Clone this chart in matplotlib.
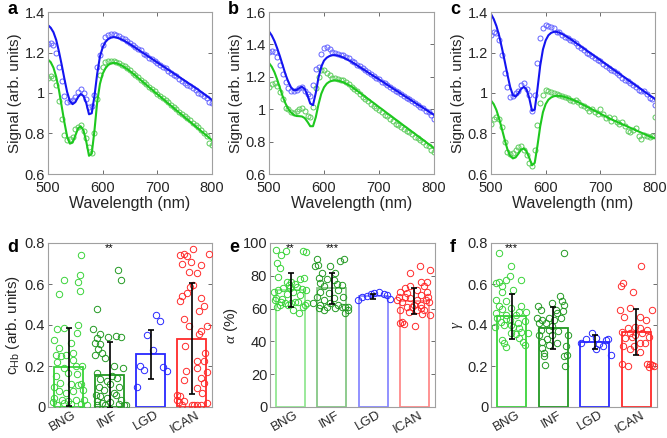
import numpy as np
import matplotlib
matplotlib.use("Agg")
import matplotlib.pyplot as plt
from matplotlib.ticker import FuncFormatter

plt.rcParams['font.family'] = ['Liberation Sans', 'DejaVu Sans']
plt.rcParams['mathtext.fontset'] = 'custom'
plt.rcParams['mathtext.rm'] = 'Liberation Sans'
plt.rcParams['mathtext.it'] = 'Liberation Serif:italic'

# ---------------- spectra data ----------------
wl = list(range(500, 801, 5))

a_blue_fit = [1.335,1.322,1.300,1.262,1.205,1.140,1.070,1.005,0.960,0.945,0.955,0.980,0.995,0.985,0.950,0.895,0.900,0.985,1.095,1.180,1.225,1.252,1.266,1.273,1.276,1.274,1.270,1.264,1.257,1.249,1.241,1.232,1.223,1.214,1.205,1.196,1.187,1.178,1.169,1.160,1.151,1.142,1.133,1.124,1.115,1.106,1.097,1.088,1.079,1.070,1.061,1.052,1.043,1.034,1.025,1.016,1.006,0.996,0.986,0.976,0.966]
a_blue_dat = [1.24,1.245,1.235,1.20,1.13,1.06,0.985,0.955,0.96,0.965,0.98,1.005,1.02,1.00,0.97,0.93,0.935,0.99,1.13,1.19,1.235,1.275,1.285,1.29,1.29,1.285,1.28,1.27,1.265,1.255,1.245,1.235,1.225,1.215,1.21,1.195,1.19,1.175,1.17,1.16,1.15,1.14,1.13,1.125,1.11,1.10,1.09,1.085,1.07,1.06,1.05,1.04,1.035,1.025,1.015,1.00,0.995,0.985,0.975,0.955,0.95]
a_green_fit = [1.165,1.152,1.125,1.080,1.015,0.935,0.855,0.785,0.750,0.755,0.790,0.825,0.835,0.815,0.760,0.690,0.700,0.815,0.955,1.045,1.095,1.122,1.138,1.146,1.149,1.147,1.142,1.135,1.127,1.118,1.108,1.097,1.086,1.074,1.063,1.051,1.040,1.028,1.017,1.005,0.994,0.983,0.971,0.960,0.948,0.937,0.926,0.914,0.903,0.892,0.880,0.869,0.858,0.846,0.835,0.824,0.812,0.801,0.790,0.778,0.767]
a_green_dat = [1.075,1.085,1.075,1.04,0.96,0.87,0.795,0.77,0.775,0.785,0.82,0.83,0.84,0.81,0.78,0.735,0.705,0.80,0.97,1.09,1.13,1.155,1.16,1.16,1.16,1.155,1.15,1.14,1.135,1.125,1.115,1.10,1.09,1.08,1.065,1.055,1.045,1.03,1.02,1.01,0.995,0.985,0.975,0.965,0.955,0.94,0.93,0.92,0.905,0.895,0.885,0.875,0.865,0.85,0.84,0.83,0.815,0.80,0.79,0.755,0.745]

b_blue_fit = [1.480,1.455,1.420,1.375,1.325,1.270,1.215,1.170,1.135,1.118,1.118,1.130,1.138,1.125,1.085,1.035,1.025,1.100,1.195,1.262,1.300,1.318,1.328,1.333,1.334,1.331,1.326,1.319,1.311,1.302,1.293,1.282,1.271,1.260,1.249,1.238,1.227,1.216,1.205,1.195,1.184,1.173,1.162,1.151,1.140,1.129,1.118,1.107,1.096,1.085,1.074,1.063,1.052,1.041,1.030,1.020,1.009,0.998,0.987,0.976,0.965]
b_blue_dat = [1.355,1.36,1.355,1.32,1.275,1.22,1.17,1.13,1.115,1.11,1.12,1.13,1.14,1.11,1.095,1.08,1.15,1.25,1.26,1.34,1.38,1.385,1.37,1.355,1.345,1.34,1.335,1.335,1.325,1.315,1.30,1.29,1.275,1.265,1.255,1.245,1.23,1.215,1.205,1.195,1.185,1.17,1.16,1.15,1.14,1.125,1.115,1.105,1.095,1.08,1.07,1.06,1.05,1.04,1.025,1.015,1.005,0.99,0.98,0.965,0.94]
b_green_fit = [1.285,1.262,1.228,1.182,1.130,1.078,1.035,1.002,0.980,0.965,0.958,0.957,0.955,0.945,0.922,0.895,0.895,0.950,1.030,1.095,1.135,1.158,1.170,1.176,1.178,1.176,1.172,1.166,1.158,1.149,1.140,1.127,1.115,1.102,1.089,1.077,1.064,1.051,1.039,1.026,1.013,1.001,0.988,0.975,0.963,0.950,0.937,0.925,0.912,0.899,0.887,0.874,0.861,0.849,0.836,0.823,0.811,0.798,0.785,0.773,0.760]
b_green_dat = [1.14,1.155,1.16,1.145,1.105,1.06,1.01,1.0,0.98,0.978,0.99,1.0,1.005,0.99,0.96,0.95,1.015,1.13,1.20,1.24,1.245,1.225,1.21,1.195,1.19,1.185,1.18,1.18,1.17,1.155,1.14,1.125,1.11,1.095,1.075,1.06,1.05,1.035,1.02,1.005,0.995,0.98,0.965,0.955,0.94,0.925,0.91,0.90,0.89,0.875,0.865,0.86,0.845,0.83,0.82,0.81,0.795,0.78,0.77,0.75,0.735]

c_blue_fit = [1.390,1.365,1.330,1.282,1.222,1.158,1.092,1.030,0.990,0.982,0.998,1.020,1.030,1.018,0.975,0.912,0.918,1.020,1.135,1.215,1.260,1.285,1.297,1.302,1.302,1.298,1.292,1.284,1.276,1.267,1.258,1.248,1.239,1.229,1.220,1.210,1.200,1.191,1.181,1.172,1.162,1.152,1.143,1.133,1.124,1.114,1.104,1.095,1.085,1.076,1.066,1.056,1.047,1.037,1.028,1.018,1.008,0.999,0.989,0.980,0.970]
c_blue_dat = [1.285,1.30,1.295,1.26,1.19,1.10,1.03,0.98,0.985,1.00,1.01,1.04,1.05,1.02,0.99,0.91,0.99,1.15,1.27,1.32,1.335,1.33,1.325,1.32,1.30,1.30,1.285,1.275,1.27,1.26,1.255,1.245,1.23,1.22,1.21,1.20,1.195,1.185,1.175,1.165,1.16,1.145,1.135,1.125,1.115,1.11,1.10,1.09,1.075,1.065,1.06,1.05,1.04,1.03,1.015,1.01,1.01,0.995,0.975,0.97,0.94]
c_green_fit = [0.963,0.945,0.915,0.872,0.822,0.770,0.722,0.690,0.677,0.682,0.700,0.720,0.726,0.712,0.680,0.643,0.655,0.740,0.835,0.905,0.945,0.967,0.978,0.984,0.986,0.986,0.984,0.980,0.976,0.971,0.966,0.960,0.954,0.947,0.940,0.933,0.926,0.919,0.912,0.905,0.898,0.891,0.884,0.877,0.870,0.864,0.858,0.852,0.846,0.840,0.834,0.828,0.822,0.816,0.810,0.804,0.798,0.792,0.786,0.781,0.776]
c_green_dat = [0.845,0.87,0.88,0.87,0.83,0.76,0.71,0.70,0.705,0.72,0.735,0.74,0.72,0.695,0.655,0.64,0.72,0.84,0.95,0.99,1.015,1.01,1.005,1.0,0.995,0.99,0.985,0.98,0.975,0.965,0.96,0.965,0.955,0.94,0.935,0.925,0.91,0.92,0.905,0.895,0.92,0.895,0.875,0.88,0.86,0.875,0.855,0.845,0.855,0.835,0.81,0.805,0.815,0.825,0.79,0.775,0.795,0.79,0.785,0.79,0.88]

# ---------------- group data ----------------
groups = ['BNG', 'INF', 'LGD', 'ICAN']

d_mean = [0.195, 0.155, 0.258, 0.333]
d_std = [0.19, 0.16, 0.12, 0.27]
e_mean = [71.5, 72.5, 67.5, 64.5]
e_std = [10.3, 9.5, 1.5, 8.0]
f_mean = [0.443, 0.386, 0.318, 0.366]
f_std = [0.109, 0.102, 0.033, 0.114]

d_bng_x = [0.30,0.27,0.23,0.28,-0.10,-0.24,0.23,0.20,-0.28,-0.12,-0.35,-0.23,0.06,-0.19,-0.06,0.10,-0.28,0.10,-0.10,0.18,0.34,-0.31,-0.02,0.20,-0.35,-0.20,0.06,0.22,0.30,-0.23,-0.06,0.10,0.36,-0.36,-0.15,-0.02,0.18,0.38,-0.39,-0.27,0.06,0.30,0.44,-0.10,-0.31]
d_bng_y = [0.74,0.645,0.61,0.565,0.62,0.55,0.40,0.36,0.38,0.385,0.325,0.29,0.31,0.25,0.255,0.265,0.22,0.23,0.19,0.20,0.20,0.15,0.165,0.16,0.10,0.117,0.11,0.105,0.11,0.076,0.068,0.076,0.085,0.044,0.036,0.028,0.036,0.036,0.023,0.011,0.016,0.016,0.011,0.02,0.255]
d_inf_x = [0.20,0.27,-0.31,-0.40,-0.24,-0.30,-0.35,-0.22,-0.28,-0.35,-0.18,-0.04,0.15,0.28,-0.10,-0.30,0.10,0.33,0.06,0.19,-0.22,-0.06,-0.26,0.02,0.23,-0.14,0.10,-0.34,-0.22,-0.06,0.15,0.27,-0.30,-0.18,0.02,0.23,0.35,0.41,-0.30,-0.10]
d_inf_y = [0.67,0.62,0.48,0.38,0.355,0.335,0.31,0.305,0.285,0.255,0.265,0.34,0.345,0.34,0.24,0.165,0.20,0.19,0.15,0.14,0.135,0.125,0.10,0.11,0.10,0.085,0.068,0.06,0.052,0.044,0.06,0.036,0.028,0.02,0.023,0.016,0.011,0.011,0.011,0.01]
d_lgd_x = [0.13,0.22,-0.09,0.05,-0.25,-0.15,0.30,0.40,-0.33]
d_lgd_y = [0.447,0.418,0.353,0.28,0.198,0.182,0.193,0.174,0.098]
d_ican_x = [-0.19,-0.27,-0.10,0.04,0.42,-0.23,-0.02,0.22,-0.06,0.14,0.04,-0.04,-0.23,-0.10,0.22,-0.27,0.30,0.18,-0.19,0.38,-0.06,0.22,0.18,-0.15,0.34,0.14,0.31,0.14,0.38,-0.13,0.22,-0.19,0.30,0.14,0.26,-0.35,-0.27,-0.35,-0.19,0.02,0.06,0.14,0.22,0.38,-0.31,-0.23]
d_ican_y = [0.746,0.74,0.735,0.772,0.746,0.70,0.705,0.695,0.66,0.655,0.593,0.584,0.54,0.556,0.53,0.515,0.495,0.467,0.43,0.397,0.397,0.372,0.356,0.30,0.263,0.223,0.223,0.19,0.169,0.174,0.141,0.13,0.117,0.093,0.068,0.06,0.052,0.036,0.028,0.011,0.011,0.011,0.011,0.02,0.023,0.011]

e_bng_x = [-0.36,-0.11,0.29,0.37,-0.24,-0.34,-0.26,-0.30,-0.10,0.02,0.33,0.23,-0.40,-0.30,-0.18,-0.02,0.15,0.27,0.37,-0.36,-0.22,-0.10,0.06,0.23,-0.38,-0.23,-0.14,0.02,0.19,0.35,0.39,-0.26,-0.06,0.11,0.21,0.06,0.31,-0.34,-0.03,0.11]
e_bng_y = [95.5,95,95.3,94.5,92.4,87.8,84.7,79.2,76.5,76.5,78.6,78,70.4,71.4,72.4,72.4,72.9,71.8,71.4,66.3,65.9,69,70.4,68.4,65.3,64.3,63.3,63.3,63.9,62.2,63.3,62.2,62.2,64.3,57.1,59.2,61.2,61.2,74.5,75.1]
e_inf_x = [-0.36,0.30,0.19,-0.34,-0.42,-0.04,-0.24,0.08,-0.32,-0.12,0.04,-0.20,0.12,-0.28,-0.08,-0.36,0.04,0.28,-0.20,-0.28,-0.04,0.16,0.24,-0.32,-0.20,0.32,0.38,0.32,0.40,-0.45,-0.12,0.08,0.16,0.24,-0.28]
e_inf_y = [90.2,90.4,88.8,86.7,85.7,85.7,81.6,81.6,78.6,78,77.6,73.9,75.1,70.4,69.8,67.3,66.3,67.3,65.3,62.2,63.3,62.2,60.8,60.2,59.2,60.8,59.2,57.1,60.8,63.7,61.2,60.2,71.4,74.5,75.5]
e_lgd_x = [-0.36,-0.28,-0.15,-0.06,0.03,0.15,0.27,0.33,0.41]
e_lgd_y = [65.3,67,67.8,69,69.8,70.4,69,68.4,65.7]
e_ican_x = [0.13,0.39,-0.10,0.15,0.31,0.23,-0.10,-0.22,0.06,0.31,-0.34,-0.18,-0.38,-0.22,0.15,0.33,-0.10,0.06,0.27,-0.30,-0.42,0.35,-0.02,0.15,-0.18,-0.06,0.06,0.23,-0.14,0.15,0.37,-0.30,-0.36,-0.26,0.01,0.19,-0.34]
e_ican_y = [85.7,83.7,81.6,76.5,76.5,73.5,73.5,72.4,71.4,70.4,70.4,69.4,67.3,67.3,68.4,67.3,66.3,65.3,65.3,64.3,65.3,64.3,62.2,62.2,61.2,60.8,59.2,59.2,58.2,60.2,56.1,52,51,50.6,49.4,56.7,59.2]

f_bng_x = [-0.31,-0.02,-0.05,0.22,-0.15,-0.31,-0.37,-0.24,0.03,-0.23,-0.37,-0.15,-0.31,0.22,-0.23,-0.02,0.34,-0.37,-0.15,0.10,0.18,-0.35,-0.15,-0.05,-0.27,0.32,-0.02,0.14,-0.40,-0.19,0.02,0.18,0.22,0.38,0.11,-0.02,-0.23,-0.19,0.26,0.32,-0.13,0.18]
f_bng_y = [0.751,0.69,0.64,0.62,0.62,0.61,0.607,0.588,0.571,0.56,0.522,0.519,0.493,0.493,0.477,0.482,0.465,0.457,0.449,0.449,0.465,0.433,0.428,0.424,0.416,0.421,0.40,0.408,0.392,0.40,0.392,0.384,0.367,0.359,0.354,0.359,0.327,0.31,0.318,0.302,0.294,0.335]
f_inf_x = [0.27,-0.36,-0.02,0.16,0.21,0.27,-0.30,0.06,0.24,-0.38,-0.26,-0.10,0.08,0.19,0.02,-0.34,-0.18,-0.02,-0.30,-0.10,0.11,0.35,-0.34,-0.02,-0.14,-0.26,0.08,-0.10,-0.26,0.31,-0.22,-0.22,0.27,0.33,-0.19,0.29]
f_inf_y = [0.751,0.493,0.506,0.542,0.519,0.498,0.473,0.473,0.47,0.433,0.424,0.433,0.457,0.433,0.424,0.408,0.408,0.395,0.375,0.375,0.37,0.351,0.351,0.351,0.33,0.318,0.313,0.302,0.286,0.297,0.261,0.248,0.248,0.253,0.204,0.199]
f_lgd_x = [-0.32,-0.20,-0.06,0.04,0.11,0.20,0.27,0.32,0.39,0.02]
f_lgd_y = [0.313,0.331,0.359,0.339,0.307,0.297,0.326,0.331,0.253,0.281]
f_ican_x = [0.12,-0.33,-0.36,-0.08,-0.39,-0.15,0.38,-0.29,0.10,0.24,-0.21,-0.04,0.08,0.26,-0.35,-0.16,-0.02,0.14,0.30,-0.27,-0.11,0.08,0.22,-0.31,-0.06,-0.16,0.10,-0.35,-0.19,0.26,0.32,0.38,0.30,0.42]
f_ican_y = [0.686,0.607,0.588,0.563,0.473,0.482,0.473,0.438,0.438,0.424,0.384,0.389,0.384,0.375,0.367,0.359,0.351,0.359,0.343,0.335,0.343,0.313,0.31,0.297,0.297,0.281,0.269,0.212,0.199,0.212,0.209,0.204,0.196,0.199]

# ---------------- style ----------------
BLUE_L = '#1414f0'
BLUE_M = '#6464ff'
GREEN_L = '#1ec81e'
GREEN_M = '#5ccc5c'
grp_colors = ['#3ad33a', '#229922', '#2828ff', '#ff2a2a']
SPINE = '#a0a0a0'
TXT = '#262626'

W, H = 667, 438
fig = plt.figure(figsize=(W / 100, H / 100), dpi=100)

def box(l, t, r, b):
    return [l / W, 1 - b / H, (r - l) / W, (b - t) / H]

fmt = FuncFormatter(lambda v, p: '{:g}'.format(round(v, 6)))

TICK_FS = 10.5
LAB_FS = 11

def style(ax):
    for s in ax.spines.values():
        s.set_color(SPINE)
        s.set_linewidth(0.8)
    ax.tick_params(direction='in', length=3, width=0.6, color='#555555',
                   top=True, right=True, labelsize=TICK_FS, labelcolor=TXT, pad=2)
    ax.tick_params(axis='x', pad=5)
    ax.yaxis.set_major_formatter(fmt)

top_boxes = [(48, 12, 212, 174), (269, 12, 434, 174), (491, 12, 655, 174)]
spectra = [
    (a_blue_fit, a_blue_dat, a_green_fit, a_green_dat, (0.6, 1.4), [0.6, 0.8, 1.0, 1.2, 1.4]),
    (b_blue_fit, b_blue_dat, b_green_fit, b_green_dat, (0.6, 1.6), [0.6, 0.8, 1.0, 1.2, 1.4, 1.6]),
    (c_blue_fit, c_blue_dat, c_green_fit, c_green_dat, (0.6, 1.4), [0.6, 0.8, 1.0, 1.2, 1.4]),
]
letters_top = ['a', 'b', 'c']
for i, (bx, sp) in enumerate(zip(top_boxes, spectra)):
    ax = fig.add_axes(box(*bx))
    bf, bd, gf, gd, yl, yt = sp
    ax.plot(wl, bd, 'o', mfc='none', mec=BLUE_M, ms=3.6, mew=0.7)
    ax.plot(wl, gd, 'o', mfc='none', mec=GREEN_M, ms=3.6, mew=0.7)
    ax.plot(wl, bf, '-', color=BLUE_L, lw=1.5)
    ax.plot(wl, gf, '-', color=GREEN_L, lw=1.5)
    ax.set_xlim(500, 800)
    ax.set_ylim(*yl)
    ax.set_xticks([500, 600, 700, 800])
    ax.set_yticks(yt)
    style(ax)
    ax.set_xlabel('Wavelength (nm)', fontsize=LAB_FS + 0.5, color=TXT, labelpad=1)
    ax.set_ylabel('Signal (arb. units)', fontsize=LAB_FS, color=TXT, labelpad=2)
    fig.text((bx[0] - 41) / W, 1 - 14 / H, letters_top[i], fontsize=13,
             fontweight='bold', ha='left', va='baseline', color='black')

bot_boxes = [(48, 243, 212, 407), (270, 243, 435, 407), (491, 243, 657, 407)]
bar_sets = [
    (d_mean, d_std, [(d_bng_x, d_bng_y), (d_inf_x, d_inf_y), (d_lgd_x, d_lgd_y), (d_ican_x, d_ican_y)],
     (0, 0.8), [0, 0.2, 0.4, 0.6, 0.8], r'c$_{\mathrm{Hb}}$ (arb. units)', 1.0),
    (e_mean, e_std, [(e_bng_x, e_bng_y), (e_inf_x, e_inf_y), (e_lgd_x, e_lgd_y), (e_ican_x, e_ican_y)],
     (0, 100), [0, 20, 40, 60, 80, 100], r'$\alpha$ (%)', 0.55),
    (f_mean, f_std, [(f_bng_x, f_bng_y), (f_inf_x, f_inf_y), (f_lgd_x, f_lgd_y), (f_ican_x, f_ican_y)],
     (0, 0.8), [0, 0.2, 0.4, 0.6, 0.8], r'$\gamma$', 1.0),
]
stars = [
    [(2, 0.776, '**')],
    [(1, 97, '**'), (2, 97, '***')],
    [(1, 0.776, '***')],
]
letters_bot = ['d', 'e', 'f']
xpos = [1, 2, 3, 4]
for i, (bx, bs) in enumerate(zip(bot_boxes, bar_sets)):
    ax = fig.add_axes(box(*bx))
    means, stds, pts, yl, yt, ylab, alpha = bs
    for k in range(4):
        ax.bar(xpos[k], means[k], width=0.7, facecolor='none',
               edgecolor=grp_colors[k], linewidth=1.3, alpha=alpha, zorder=2)
        px, py = pts[k]
        ax.plot([xpos[k] + o for o in px], py, 'o', mfc='none',
                mec=grp_colors[k], ms=4.6, mew=0.7, zorder=3)
        ax.errorbar(xpos[k], means[k], yerr=stds[k], fmt='none', ecolor='black',
                    elinewidth=1.2, capsize=2.5, capthick=1.2, zorder=4)
    for (sx, sy, s) in stars[i]:
        ax.text(sx, sy, s, ha='center', va='center', fontsize=8, color='black')
    ax.set_xlim(0.5, 4.5)
    ax.set_ylim(*yl)
    ax.set_yticks(yt)
    ax.set_xticks(xpos)
    style(ax)
    ax.tick_params(axis='x', top=False, length=0, pad=4)
    ax.set_xticklabels([])
    for k in range(4):
        ax.text(xpos[k] + 0.1, -0.012, groups[k], transform=ax.get_xaxis_transform(),
                rotation=30, ha='right', va='top', rotation_mode='anchor',
                fontsize=9.5, color=TXT)
    ax.set_ylabel(ylab, fontsize=LAB_FS, color=TXT, labelpad=2)
    fig.text((bx[0] - 41) / W, 1 - 252 / H, letters_bot[i], fontsize=13,
             fontweight='bold', ha='left', va='baseline', color='black')

fig.savefig('out.png', dpi=100)
